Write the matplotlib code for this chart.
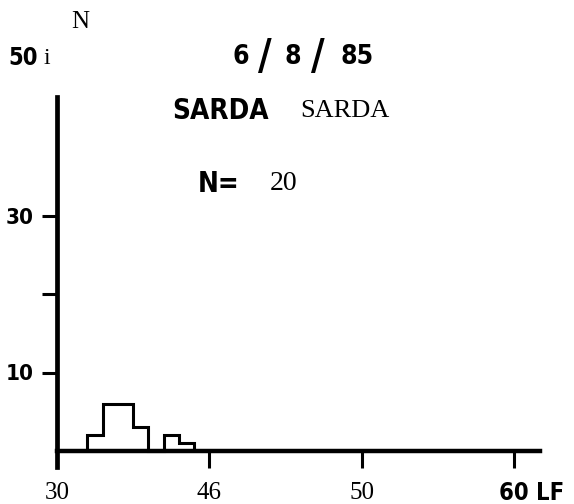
import matplotlib.pyplot as plt

# length-frequency counts, 1 cm classes
edges = [32, 33, 34, 35, 36, 37, 38, 39]
counts = [2, 6, 6, 3, 0, 2, 1]

x_ticks = [30, 40, 50, 60]
x_labels = ["30", "46", "50", "60 LF"]
y_ticks = [10, 20, 30]
y_labels = ["10", "", "30"]

BOLD = ["DejaVu Sans"]
SERIF = ["Liberation Serif", "DejaVu Serif"]

W, H = 574, 504
fig = plt.figure(figsize=(W / 100, H / 100), dpi=100)

# pixel layout of the scanned axes: x=30 at px 57, y=0 at px 451
x0, xs = 57, 15.23
y0, ys = 451, 7.85
xlim = (30, 63)
ylim = (-3, 46)
right_px = x0 + (xlim[1] - xlim[0]) * xs
bottom_px = y0 - ylim[0] * ys
top_px = y0 - ylim[1] * ys
ax = fig.add_axes([x0 / W, 1 - bottom_px / H, (right_px - x0) / W, (bottom_px - top_px) / H])
ax.set_xlim(xlim)
ax.set_ylim(ylim)

for s in ["top", "right"]:
    ax.spines[s].set_visible(False)
ax.spines["left"].set_position(("data", 30))
ax.spines["left"].set_bounds(-2, 45.1)
ax.spines["left"].set_linewidth(3.4)
ax.spines["bottom"].set_position(("data", 0))
ax.spines["bottom"].set_bounds(30, 61.7)
ax.spines["bottom"].set_linewidth(3.2)

ax.set_xticks(x_ticks)
ax.tick_params(axis="x", direction="out", length=12, width=2.2, labelbottom=False)
ax.set_yticks(y_ticks, y_labels)
ax.tick_params(axis="y", direction="out", length=11, width=2.2, pad=6)
for lbl in ax.get_yticklabels():
    lbl.set_fontfamily(BOLD)
    lbl.set_fontweight("bold")
    lbl.set_fontstretch("condensed")
    lbl.set_fontsize(16)

ax.stairs(counts, edges, baseline=0, color="black", linewidth=2.2)

# x tick labels
for xv, lab in zip(x_ticks, x_labels):
    if lab.endswith("LF"):
        ax.text(xv - 15 / xs, -5.35, lab, ha="left", va="center", fontsize=17,
                family=BOLD, fontweight="bold", stretch="condensed", clip_on=False)
    else:
        ax.text(xv, -5.35, lab, ha="center", va="center", fontsize=18,
                family=SERIF, clip_on=False)


def ptext(x, y, s, bold=False, size=18, ha="left"):
    if bold:
        fig.text(x / W, 1 - y / H, s, ha=ha, va="center", fontsize=size,
                 family=BOLD, fontweight="bold", stretch="condensed")
    else:
        fig.text(x / W, 1 - y / H, s, ha=ha, va="center", fontsize=size, family=SERIF)


ptext(71, 22, "N", size=18)
ptext(8, 58, "50", bold=True, size=17)
ptext(43, 58, "i", size=17)

ptext(233, 57, "6", bold=True, size=19)
ptext(265, 57, "/", bold=True, size=30, ha="center")
ptext(285, 57, "8", bold=True, size=19)
ptext(318, 57, "/", bold=True, size=30, ha="center")
ptext(340, 57, "85", bold=True, size=19)

ptext(172, 111, "SARDA", bold=True, size=20)
ptext(300, 111, "SARDA", size=19)
ptext(198, 184, "N=", bold=True, size=20)
ptext(270, 184, "20", size=20)

fig.savefig("out.png", dpi=100, facecolor="white")
